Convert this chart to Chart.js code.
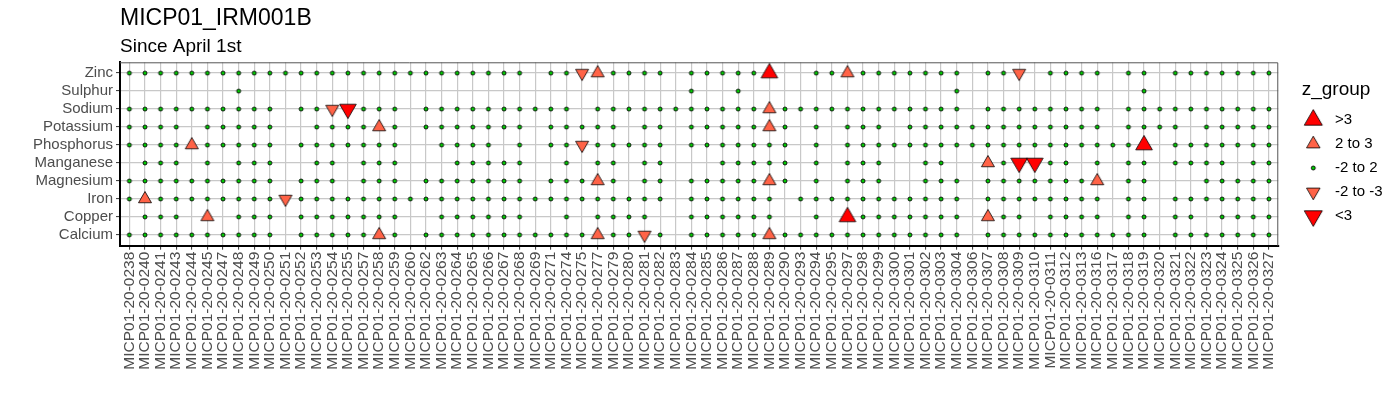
<!DOCTYPE html>
<html>
<head>
<meta charset="utf-8">
<script src="https://cdn.jsdelivr.net/npm/chart.js@4.4.1/dist/chart.umd.min.js"></script>
<style>
html,body{margin:0;padding:0;background:#fff;}
#wrap{width:1400px;height:400px;}
</style>
</head>
<body>
<div id="wrap"><canvas id="c" width="1400" height="400"></canvas></div>
<script>
// ---------- DATA ----------
const samples = [
'MICP01-20-0238','MICP01-20-0240','MICP01-20-0241','MICP01-20-0243','MICP01-20-0244','MICP01-20-0245','MICP01-20-0247','MICP01-20-0248','MICP01-20-0249','MICP01-20-0250',
'MICP01-20-0251','MICP01-20-0252','MICP01-20-0253','MICP01-20-0254','MICP01-20-0255','MICP01-20-0257','MICP01-20-0258','MICP01-20-0259','MICP01-20-0260','MICP01-20-0262',
'MICP01-20-0263','MICP01-20-0264','MICP01-20-0265','MICP01-20-0266','MICP01-20-0267','MICP01-20-0268','MICP01-20-0269','MICP01-20-0271','MICP01-20-0274','MICP01-20-0275',
'MICP01-20-0277','MICP01-20-0279','MICP01-20-0280','MICP01-20-0281','MICP01-20-0282','MICP01-20-0283','MICP01-20-0284','MICP01-20-0285','MICP01-20-0286','MICP01-20-0287',
'MICP01-20-0288','MICP01-20-0289','MICP01-20-0290','MICP01-20-0293','MICP01-20-0294','MICP01-20-0295','MICP01-20-0297','MICP01-20-0298','MICP01-20-0299','MICP01-20-0300',
'MICP01-20-0301','MICP01-20-0302','MICP01-20-0303','MICP01-20-0304','MICP01-20-0306','MICP01-20-0307','MICP01-20-0308','MICP01-20-0309','MICP01-20-0310','MICP01-20-0311',
'MICP01-20-0312','MICP01-20-0313','MICP01-20-0316','MICP01-20-0317','MICP01-20-0318','MICP01-20-0319','MICP01-20-0320','MICP01-20-0321','MICP01-20-0322','MICP01-20-0323',
'MICP01-20-0324','MICP01-20-0325','MICP01-20-0326','MICP01-20-0327'
];
const elements = ['Zinc','Sulphur','Sodium','Potassium','Phosphorus','Manganese','Magnesium','Iron','Copper','Calcium'];

// z_group per sample (one character per sample, groups of 10):
// '.' no value, 'o' -2 to 2, 'u' 2 to 3, 'U' >3, 'd' -2 to -3, 'D' <3
const zinc       = 'oooooooooo oooooooooo oooooo.ood uoooo.oooo oU..oouooo oooo.ood.o ooo.oo.ooo oooo';
const sulphur    = '.......o.. .......... .......... ......o..o .......... ...o...... .....o.... ....';
const sodium     = 'oooooooooo .oodDooo.o ooooooooo. oooooooooo ouoooooooo oooo.ooooo ooo.oooooo oooo';
const potassium  = 'oooo.ooooo ..oooouo.o oooooo.ooo oo.oo.oooo ouo.o.ooo. oooooooooo ooo.oooo.o oooo';
const phosphorus = 'oooouooooo .ooooooo.. oooo.o.ood ooooo.oooo ooo.o.oooo oooooooooo oooooU.ooo oooo';
const manganese  = '.ooo.o.ooo ..oo.ooo.. .ooooo..o. oo.oo...oo ooo.o.ooo. .oo..uoDDo o.o.oo.ooo o.oo';
const magnesium  = 'oooooooooo .ooo.ooo.o oooooo.ooo uo.oo.oooo ouo.o.ooo. .ooo.ooooo oou.oo...o oooo';
const iron       = 'ouoooooooo dooooooooo oooooooooo ooooo.oooo oo.ooooooo oooo.ooooo ooo.oo.ooo oooo';
const copper     = '.ooo.u.ooo .ooooooo.. oooooo..o. oooo..oooo oo..o.Uooo oooo.uoo.o ooo.oo.oo. oooo';
const calcium    = 'oooooooooo .ooooouo.o oooooooooo uoodo.oooo ouoooooooo oooo.ooooo oooooo.ooo oooo';

const groupCodes  = ['U', 'u', 'o', 'd', 'D'];
const groupLabels = ['>3', '2 to 3', '-2 to 2', '-2 to -3', '<3'];

// ---------- STYLE ----------
const FONT = "'Liberation Sans', Arial, Helvetica, sans-serif";
const groupStyle = [
  {kind:'up',   r:9.6, lr:10.4, fill:'#FF0000'},
  {kind:'up',   r:7.5, lr:7.8,  fill:'#FF6347'},
  {kind:'dot',  r:2.0, lr:2.0,  fill:'#00CD00'},
  {kind:'down', r:7.5, lr:7.8,  fill:'#FF6347'},
  {kind:'down', r:9.6, lr:10.4, fill:'#FF0000'}
];

function makeSymbol(st, r, w, h, cx) {
  const c = document.createElement('canvas');
  c.width = w; c.height = h;
  const g = c.getContext('2d');
  const cy = h / 2;
  g.fillStyle = st.fill;
  g.strokeStyle = '#000';
  g.lineWidth = st.kind === 'dot' ? 0.9 : 0.8;
  g.beginPath();
  if (st.kind === 'dot') {
    g.arc(cx, cy, r, 0, Math.PI * 2);
  } else {
    const s = st.kind === 'up' ? -1 : 1;
    const hw = r * Math.sqrt(3) / 2;
    g.moveTo(cx, cy + s * r);
    g.lineTo(cx - hw, cy - s * r / 2);
    g.lineTo(cx + hw, cy - s * r / 2);
    g.closePath();
  }
  g.fill();
  g.stroke();
  return c;
}
const plotSymbols = groupStyle.map(st => makeSymbol(st, st.r, 24, 24, 12));
const legendSymbols = groupStyle.map(st => makeSymbol(st, st.lr, 40, 26, 14.2));

const rows = [zinc, sulphur, sodium, potassium, phosphorus, manganese, magnesium, iron, copper, calcium]
  .map(s => s.replace(/ /g, ''));

const datasets = groupCodes.map((code, g) => {
  const data = [];
  rows.forEach((row, r) => {
    for (let i = 0; i < row.length; i++) if (row[i] === code) data.push({x: i, y: r});
  });
  return {
    label: groupLabels[g],
    data,
    pointStyle: plotSymbols[g],
    pointRadius: 4,
    pointHoverRadius: 4,
    backgroundColor: groupStyle[g].fill,
    borderColor: '#000'
  };
});

const panelBorder = {
  id: 'panelBorder',
  beforeDatasetsDraw(chart) {
    const {ctx, chartArea: a} = chart;
    ctx.save();
    ctx.strokeStyle = '#555';
    ctx.lineWidth = 1;
    ctx.beginPath();
    ctx.moveTo(a.left, a.top + 0.5);
    ctx.lineTo(a.right - 0.5, a.top + 0.5);
    ctx.lineTo(a.right - 0.5, a.bottom);
    ctx.stroke();
    ctx.restore();
  }
};

const gridCfg = {color: '#C8C8C8', lineWidth: 1.2, tickLength: 4, tickColor: '#333333', tickWidth: 1};

new Chart(document.getElementById('c'), {
  type: 'scatter',
  data: {datasets},
  options: {
    responsive: false,
    animation: false,
    events: [],
    layout: {padding: {left: 0, right: 7.5, top: 0, bottom: 0}},
    plugins: {
      title: {
        display: true, text: 'MICP01_IRM001B', align: 'start', fullSize: false, color: '#000',
        font: {family: FONT, size: 23, weight: 'normal'}, padding: {top: 5, bottom: 0}
      },
      subtitle: {
        display: true, text: 'Since April 1st', align: 'start', fullSize: false, color: '#000',
        font: {family: FONT, size: 19, weight: 'normal'}, padding: {top: 2.5, bottom: 4.4}
      },
      legend: {
        position: 'right',
        align: 'start',
        title: {
          display: true, text: 'z_group', position: 'start', color: '#000',
          font: {family: FONT, size: 19}, padding: {top: 79.8, bottom: 0.9}
        },
        labels: {
          usePointStyle: true,
          pointStyleWidth: 16.8,
          padding: 9,
          color: '#000',
          font: {family: FONT, size: 15},
          generateLabels(chart) {
            const items = Chart.defaults.plugins.legend.labels.generateLabels(chart);
            items.forEach((it, i) => { it.pointStyle = legendSymbols[i]; it.rotation = 0; });
            return items;
          }
        }
      },
      tooltip: {enabled: false}
    },
    scales: {
      x: {
        type: 'linear', min: -0.6, max: samples.length - 0.4,
        afterBuildTicks: s => { s.ticks = samples.map((_, i) => ({value: i})); },
        afterFit: s => { s.height = 154.3; },
        ticks: {
          autoSkip: false, maxRotation: 90, minRotation: 90, padding: 2, color: '#4D4D4D',
          font: {family: FONT, size: 15.5},
          callback: v => samples[v]
        },
        grid: gridCfg,
        border: {display: true, color: '#000', width: 2}
      },
      y: {
        type: 'linear', reverse: true, min: -0.6, max: elements.length - 0.4,
        afterBuildTicks: s => { s.ticks = elements.map((_, i) => ({value: i})); },
        afterFit: s => { s.width = 120; },
        ticks: {
          autoSkip: false, padding: 3, color: '#4D4D4D', font: {family: FONT, size: 15},
          callback: v => elements[v]
        },
        grid: gridCfg,
        border: {display: true, color: '#000', width: 2}
      },
      gap: {
        type: 'linear', position: 'right', display: true,
        grid: {display: false, drawTicks: false}, ticks: {display: false}, border: {display: false},
        afterFit: s => { s.width = 23.4; }
      }
    }
  },
  plugins: [panelBorder]
});
</script>
</body>
</html>
